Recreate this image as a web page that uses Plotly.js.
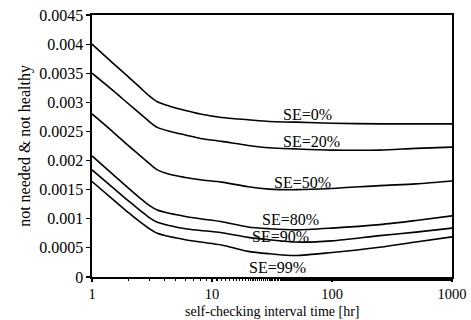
<!DOCTYPE html>
<html>
<head>
<meta charset="utf-8">
<script src="https://cdn.plot.ly/plotly-3.0.1.min.js"></script>
<style>html,body{margin:0;padding:0;background:#fff;}#chart{width:471px;height:320px;}</style>
</head>
<body>
<div id="chart"></div>
<script>
const intervalHours = [1, 1.5, 2, 2.5, 3, 3.5, 4.5, 6, 8, 12, 20, 30, 50, 100, 250, 500, 1000];
const seriesNames = ["SE=0%", "SE=20%", "SE=50%", "SE=80%", "SE=90%", "SE=99%"];
const se0  = [0.00400,0.00367,0.00344,0.00326,0.00311,0.00301,0.00293,0.00286,0.00280,0.00274,0.00270,0.00267,0.00266,0.00264,0.00263,0.00263,0.00263];
const se20 = [0.00350,0.00320,0.00298,0.00281,0.00267,0.00257,0.00250,0.00244,0.00238,0.00233,0.00226,0.00222,0.00220,0.00218,0.00218,0.00221,0.00223];
const se50 = [0.00280,0.00249,0.00226,0.00209,0.00195,0.00184,0.00176,0.00171,0.00167,0.00163,0.00155,0.00151,0.00150,0.00152,0.00157,0.00160,0.00165];
const se80 = [0.00208,0.00176,0.00153,0.00136,0.00123,0.00115,0.00109,0.00104,0.00100,0.00095,0.00086,0.00083,0.00081,0.00084,0.00090,0.00097,0.00105];
const se90 = [0.00184,0.00153,0.00131,0.00115,0.00102,0.00094,0.00088,0.00083,0.00080,0.00076,0.00068,0.00064,0.00060,0.00062,0.00071,0.00077,0.00084];
const se99 = [0.00164,0.00133,0.00111,0.00095,0.00083,0.00075,0.00069,0.00064,0.00060,0.00055,0.00044,0.00040,0.00037,0.00042,0.00051,0.00060,0.00069];
const xTickVals = [1, 10, 100, 1000];
const xTickText = ["1", "10", "100", "1000"];
const xTitle = "self-checking interval time [hr]";
const yTitle = "not needed &amp; not healthy";
const labelX = [63, 68, 57, 45, 37, 35];
const labelY = [0.00279, 0.00232, 0.00163, 0.00098, 0.00069, 0.00017];

const allSeries = [se0, se20, se50, se80, se90, se99];
const fam = "'Liberation Serif', 'DejaVu Serif', serif";
const font = {family: fam, size: 16, color: "#000"};
const xFont = {family: fam, size: 14.5, color: "#000"};
const xTitleFont = {family: fam, size: 14, color: "#000"};

const traces = allSeries.map((ys, i) => ({
  x: intervalHours, y: ys, type: "scatter", mode: "lines", name: seriesNames[i],
  line: {color: "#000", width: 1.6, shape: "spline", smoothing: 0.8}, hoverinfo: "skip"
}));

const annotations = seriesNames.map((t, i) => ({
  x: Math.log10(labelX[i]), y: labelY[i], xref: "x", yref: "y", text: t,
  showarrow: false, font: font, xanchor: "center", yanchor: "middle"
}));
annotations.push({
  x: 0.5, y: 0, xref: "paper", yref: "paper", text: xTitle, showarrow: false,
  font: xTitleFont, xanchor: "center", yanchor: "top", yshift: -25
});

const layout = {
  width: 471, height: 320,
  margin: {l: 92, r: 19, t: 15, b: 43},
  paper_bgcolor: "#fff", plot_bgcolor: "#fff",
  showlegend: false, font: font,
  xaxis: {
    type: "log", range: [0, 3], tickvals: xTickVals, ticktext: xTickText,
    ticks: "outside", ticklen: 3, tickwidth: 1.2, tickcolor: "#000",
    minor: {ticks: "outside", ticklen: 2, tickcolor: "#000", showgrid: false},
    showline: true, linecolor: "#000", linewidth: 1.6, mirror: true,
    showgrid: false, zeroline: false, tickfont: xFont, ticklabelstandoff: 0
  },
  yaxis: {
    range: [0, 0.0045], dtick: 0.0005, tick0: 0,
    ticks: "outside", ticklen: 4, tickwidth: 1.2, tickcolor: "#000",
    showline: true, linecolor: "#000", linewidth: 1.6, mirror: true,
    showgrid: false, zeroline: false, tickfont: font,
    title: {text: yTitle, font: font, standoff: 4}
  },
  annotations: annotations
};

Plotly.newPlot("chart", traces, layout, {displayModeBar: false, staticPlot: true});
</script>
</body>
</html>
